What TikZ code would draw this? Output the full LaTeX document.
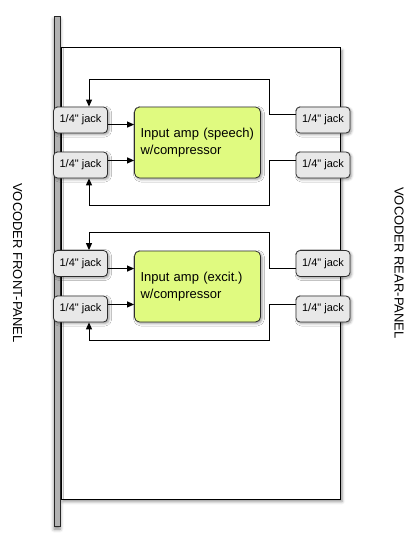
\documentclass[tikz,border=0pt]{standalone}
\usepackage{fontspec}
\setmainfont{Liberation Sans}
\usetikzlibrary{arrows.meta,shadows.blur,calc}
\definecolor{ampgreen}{RGB}{224,250,128}
\definecolor{jackgray}{RGB}{232,232,232}
\definecolor{edgegray}{RGB}{45,45,45}
\newcommand{\jacktext}{1/4\textquotedbl{} jack}
\begin{document}
\begin{tikzpicture}[x=1pt,y=-1pt,
  softshadow/.style={blur shadow={shadow xshift=1.5pt, shadow yshift=-1.5pt, shadow blur radius=2.5pt, shadow opacity=40}},
  jack/.style={draw=edgegray, fill=jackgray, rounded corners=4pt, minimum width=54pt, minimum height=26pt, inner sep=0pt, font=\fontsize{11}{13}\selectfont, line width=0.8pt, softshadow},
  amp/.style={draw=edgegray, fill=ampgreen, rounded corners=5pt, minimum width=126pt, minimum height=71pt, text width=114pt, align=left, inner xsep=6pt, font=\fontsize{13}{16.5}\selectfont, line width=0.8pt, softshadow},
  wire/.style={line width=1pt, draw=black},
  arr/.style={wire, -{Triangle[length=7pt,width=6pt]}},
  panel/.style={font=\fontsize{13}{15}\selectfont, inner sep=0pt}
]
\useasboundingbox (0,0) rectangle (418,551);
% chassis
\path[draw=black, fill=white, line width=1pt, blur shadow={shadow xshift=2pt, shadow yshift=-2.5pt, shadow blur radius=3pt, shadow opacity=45}] (61,48) rectangle (340,499);
% front panel bar
\path[draw=black!85, fill=black!30, line width=0.9pt, blur shadow={shadow xshift=-0.5pt, shadow yshift=-3pt, shadow blur radius=3.5pt, shadow opacity=50}] (54.5,16.5) rectangle (60.5,526);
% panel labels
\node[panel, rotate=-90] (front) at (17.5,263) {VOCODER FRONT-PANEL};
\node[panel, rotate=-90] (rear) at (399,263) {VOCODER REAR-PANEL};
% group 1
\node[amp] (g1) at (197.5,142.5) {Input amp (speech)\\w/compressor};
\node[jack] (j1l) at (80.5,120) {\jacktext};
\node[jack] (j2l) at (80.5,165) {\jacktext};
\node[jack] (j1r) at (323,120) {\jacktext};
\node[jack] (j2r) at (323,165) {\jacktext};
% group 2
\node[amp] (g2) at (197.5,286.5) {Input amp (excit.)\\w/compressor};
\node[jack] (j3l) at (80.5,263.5) {\jacktext};
\node[jack] (j4l) at (80.5,309) {\jacktext};
\node[jack] (j3r) at (323,263.5) {\jacktext};
\node[jack] (j4r) at (323,309) {\jacktext};
% arrow targets on amps
\coordinate (a1) at ($(g1.north west)!0.25!(g1.south west)$);
\coordinate (a2) at ($(g1.north west)!0.75!(g1.south west)$);
\coordinate (a3) at ($(g2.north west)!0.25!(g2.south west)$);
\coordinate (a4) at ($(g2.north west)!0.75!(g2.south west)$);
\draw[arr] (j1l.east |- a1) -- (a1);
\draw[arr] (j2l.east |- a2) -- (a2);
\draw[arr] (j3l.east |- a3) -- (a3);
\draw[arr] (j4l.east |- a4) -- (a4);
% loop bend points
\coordinate (t1) at (269,79);
\coordinate (b1) at (269,205);
\coordinate (t2) at (269,232);
\coordinate (b2) at (269,340);
\draw[arr] ([yshift=5.5pt]j1r.west) -| (t1) -| ([xshift=8.5pt]j1l.north);
\draw[arr] ([yshift=5pt]j2r.west) -| (b1) -| ([xshift=8.5pt]j2l.south);
\draw[arr] ([yshift=-4.5pt]j3r.west) -| (t2) -| ([xshift=8.5pt]j3l.north);
\draw[arr] ([yshift=5pt]j4r.west) -| (b2) -| ([xshift=8.5pt]j4l.south);
\end{tikzpicture}
\end{document}
